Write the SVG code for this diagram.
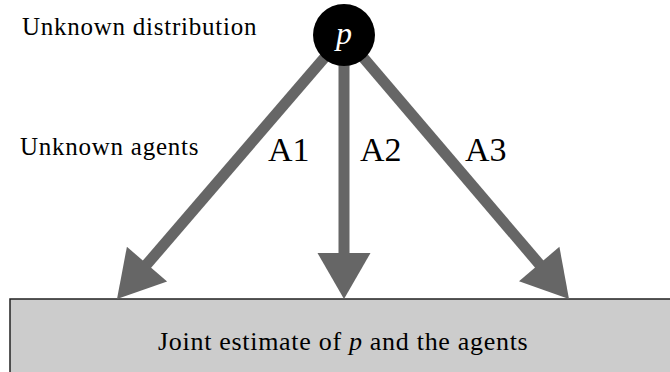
<svg xmlns="http://www.w3.org/2000/svg" width="670" height="372" viewBox="0 0 670 372">
<rect width="670" height="372" fill="#fff"/>
<g id="box">
<rect x="10" y="299" width="670" height="90" fill="#cccccc" stroke="#222" stroke-width="1.5"/>
<text x="158" y="350" font-family="Liberation Serif" font-size="26" letter-spacing="0.7">Joint estimate of <tspan font-style="italic">p</tspan> and the agents</text>
</g>
<g id="connectors" fill="#666">
<line x1="344" y1="35" x2="140.5" y2="271.7" stroke="#666" stroke-width="11"/>
<polygon points="117,299 167.1,281.4 126.9,246.8"/>
<line x1="344" y1="35" x2="344" y2="263" stroke="#666" stroke-width="11"/>
<polygon points="344,299 370.5,253 317.5,253"/>
<line x1="344" y1="35" x2="545.7" y2="271.6" stroke="#666" stroke-width="11"/>
<polygon points="569,299 559.4,246.8 519,281.2"/>
</g>
<text x="268" y="161" font-family="Liberation Serif" font-size="34">A1</text>
<text x="360" y="161" font-family="Liberation Serif" font-size="34">A2</text>
<text x="465" y="161" font-family="Liberation Serif" font-size="34">A3</text>
<g id="p">
<circle cx="344" cy="35" r="31" fill="#000"/>
<text x="344" y="44" font-family="Liberation Serif" font-size="32" font-style="italic" text-anchor="middle" fill="#fff">p</text>
</g>
<text x="22" y="35" font-family="Liberation Serif" font-size="25" letter-spacing="0.75">Unknown distribution</text>
<text x="20" y="155" font-family="Liberation Serif" font-size="25" letter-spacing="0.75">Unknown agents</text>
</svg>
